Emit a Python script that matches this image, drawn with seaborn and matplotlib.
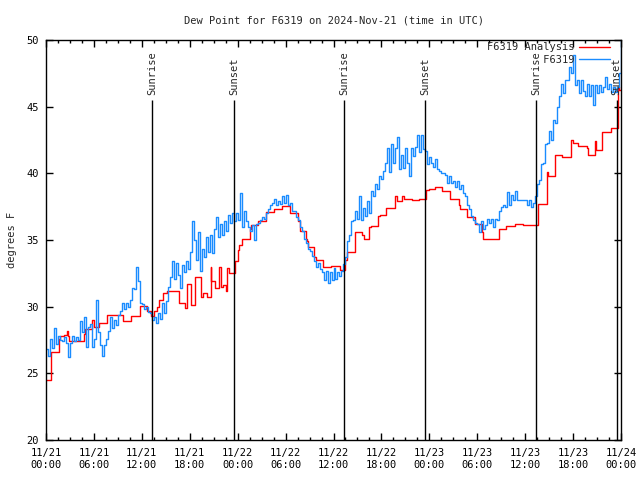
import numpy as np
import pandas as pd
import seaborn as sns
import matplotlib.pyplot as plt
from matplotlib.ticker import MultipleLocator

# time axis: hours since 2024-11-21 00:00 UTC

# analysis (stepped) - change points
analysis_hours = [0.0, 0.67, 1.67, 1.8, 2.3, 2.6, 2.75, 2.9, 4.7, 4.9, 5.8, 6.0, 6.6, 7.7,
                  9.6, 10.7, 11.75, 12.6, 13.2, 13.5, 13.9, 14.1, 14.7, 15.1, 16.6, 17.4,
                  17.6, 18.2, 18.6, 19.4, 19.7, 20.2, 20.6, 20.7, 21.1, 21.7, 21.9, 22.2,
                  22.6, 22.7, 22.9, 23.7, 24.0, 24.2, 24.5, 25.5, 25.7, 26.6, 27.6, 28.6,
                  29.5, 30.5, 31.6, 31.8, 32.5, 32.7, 32.8, 33.6, 33.75, 34.7, 35.7, 36.8,
                  37.5, 37.75, 38.7, 39.6, 39.8, 40.5, 40.7, 41.6, 41.8, 42.6, 43.5, 43.7,
                  43.9, 44.6, 44.8, 45.8, 46.7, 47.6, 48.0, 48.7, 49.6, 50.6, 51.7, 51.8,
                  52.7, 53.7, 54.6, 54.7, 55.7, 56.7, 57.6, 58.7, 59.7, 61.6, 62.7, 62.8,
                  63.7, 64.6, 65.7, 66.0, 66.6, 67.8, 67.9, 68.7, 68.9, 69.6, 70.7, 71.6,
                  71.8, 72.0]
analysis_vals = [24.5, 26.6, 27.6, 27.8, 27.9, 28.2, 27.8, 27.45, 27.95, 28.3, 29.0, 28.5, 28.8, 29.4,
                 28.95, 29.3, 30.05, 29.7, 29.3, 29.7, 30.0, 30.5, 31.0, 31.2, 30.3, 29.9,
                 31.7, 30.1, 32.2, 30.75, 31.05, 30.75, 33.0, 31.9, 31.4, 33.0, 31.5, 31.6,
                 31.2, 32.9, 32.5, 33.4, 34.25, 34.6, 35.1, 35.8, 36.1, 36.4, 37.1, 37.3,
                 37.55, 37.05, 36.4, 35.7, 35.1, 34.9, 34.5, 33.7, 33.5, 32.95, 33.05, 32.75,
                 33.5, 34.1, 35.6, 35.4, 35.1, 36.0, 36.05, 36.8, 36.9, 37.4, 37.4, 38.3,
                 37.9, 38.3, 38.1, 38.0, 38.1, 38.75, 38.8, 39.0, 38.65, 38.1, 37.6, 37.3,
                 36.75, 36.2, 35.6, 35.1, 35.05, 35.8, 36.05, 36.2, 36.1, 37.7, 40.1, 39.8,
                 41.35, 41.25, 42.5, 42.3, 42.05, 41.9, 41.4, 42.4, 41.75, 43.1, 43.4, 46.5,
                 46.25, 46.25]

# station observations, every 15 minutes
obs_vals = [
    26.8, 26.3, 27.6, 26.9, 28.4, 27.2, 27.8, 27.5, 27.4, 27.7, 27.3, 26.2,
    27.3, 27.8, 27.4, 27.7, 27.5, 28.9, 28.1, 29.2, 27.0, 28.5, 28.7, 27.0,
    27.6, 30.5, 28.1, 27.1, 26.3, 27.1, 27.6, 28.2, 29.2, 28.4, 29.0, 28.6,
    29.4, 29.7, 30.3, 29.8, 30.3, 30.0, 30.5, 31.4, 31.3, 33.0, 31.9, 30.3,
    30.2, 29.8, 30.0, 29.6, 29.5, 29.0, 29.2, 28.8, 29.5, 29.1, 30.3, 29.5,
    30.4, 31.5, 32.2, 33.4, 32.1, 33.3, 32.4, 31.4, 33.1, 32.6, 33.4, 32.8,
    34.1, 36.4, 35.0, 33.5, 35.6, 32.7, 34.3, 33.7, 35.2, 34.1, 35.4, 34.0,
    35.8, 36.7, 35.2, 36.2, 35.4, 36.4, 35.7, 36.9, 36.3, 37.0, 36.4, 37.0,
    36.5, 38.5, 36.0, 37.2, 36.4, 36.0, 35.7, 36.1, 35.0, 36.2, 36.3, 36.5,
    36.7, 36.6, 37.0, 37.3, 37.6, 37.8, 38.1, 37.6, 37.9, 37.7, 38.3, 37.8,
    38.4, 37.6, 37.8, 37.2, 37.2, 36.7, 36.5, 36.0, 35.7, 35.1, 34.8, 34.3,
    34.2, 33.8, 33.4, 33.0, 33.3, 32.8, 32.6, 32.0, 32.7, 31.8, 32.6, 32.0,
    32.9, 32.1, 32.6, 32.3, 32.7, 33.2, 33.7, 34.9, 35.4, 36.4, 36.5, 37.2,
    36.6, 38.3, 36.5, 37.4, 36.8, 37.9, 37.0, 38.7, 38.3, 39.2, 38.8, 39.8,
    39.6, 40.2, 40.8, 41.9, 40.1, 42.2, 40.8, 41.9, 42.7, 40.3, 41.4, 40.4,
    41.9, 40.8, 39.8, 41.9, 41.3, 42.0, 42.9, 41.6, 42.9, 41.8, 41.7, 40.7,
    41.2, 40.8, 40.5, 41.1, 40.3, 40.2, 40.0, 40.0, 39.9, 39.3, 39.8, 39.3,
    39.4, 39.0, 39.4, 38.8, 39.1, 38.5, 38.3, 37.6, 37.3, 36.8, 36.5, 36.3,
    36.2, 35.6, 36.4, 35.8, 36.1, 36.6, 36.3, 36.6, 36.0, 36.6, 36.5, 37.2,
    37.5, 37.6, 37.5, 38.6, 37.6, 38.4, 38.0, 38.7, 38.0, 38.0, 38.0, 38.0,
    38.0, 37.6, 38.0, 37.5, 37.8, 38.3, 39.2, 39.5, 40.7, 40.8, 42.2, 42.3,
    43.2, 42.5, 44.0, 43.8, 45.0, 45.8, 46.7, 46.0, 47.0, 47.0, 48.0, 47.5,
    48.9, 46.6, 47.0, 46.0, 47.0, 46.2, 45.8, 46.7, 45.8, 46.6, 45.1, 46.6,
    46.0, 46.6, 46.1, 46.5, 47.2, 46.3, 46.7, 46.1, 46.5, 46.1, 46.5, 47.5,
    50.0]
obs_hours = np.arange(len(obs_vals)) * 0.25

sun_hours = [13.27, 23.53, 37.3, 47.43, 61.33, 71.46]
sun_labels = ["Sunrise", "Sunset", "Sunrise", "Sunset", "Sunrise", "Sunset"]

tick_hours = [0, 6, 12, 18, 24, 30, 36, 42, 48, 54, 60, 66, 72]
tick_labels = ["11/21\n00:00", "11/21\n06:00", "11/21\n12:00", "11/21\n18:00",
               "11/22\n00:00", "11/22\n06:00", "11/22\n12:00", "11/22\n18:00",
               "11/23\n00:00", "11/23\n06:00", "11/23\n12:00", "11/23\n18:00",
               "11/24\n00:00"]

sns.set_style("ticks")
plt.rcParams["font.family"] = "DejaVu Sans Mono"
plt.rcParams["font.size"] = 7.5

fig = plt.figure(figsize=(6.4, 4.8), dpi=100)
ax = fig.add_axes([46 / 640, 40 / 480, 575 / 640, 400 / 480])

sns.lineplot(x=analysis_hours, y=analysis_vals, ax=ax, color="#ff0000", lw=1.0,
             drawstyle="steps-post", label="F6319 Analysis")
sns.lineplot(x=obs_hours, y=obs_vals, ax=ax, color="#1a8cff", lw=1.0,
             drawstyle="steps-post", label="         F6319")

# sunrise / sunset markers
ax.vlines(sun_hours, 20, 45.5, color="black", lw=1)
for h, lab in zip(sun_hours, sun_labels):
    ax.text(h, 45.85, lab, rotation=90, ha="center", va="bottom", fontsize=7.5)

ax.set_xlim(0, 72)
ax.set_ylim(20, 50)
ax.set_xticks(tick_hours)
ax.set_xticklabels(tick_labels)
ax.xaxis.set_minor_locator(MultipleLocator(1.5))
ax.set_yticks([20, 25, 30, 35, 40, 45, 50])
ax.tick_params(which="both", direction="in", top=True, right=True, colors="black")
ax.tick_params(which="major", length=5, width=1, labelsize=7.5)
ax.tick_params(axis="x", which="major", pad=6)
ax.tick_params(axis="y", which="major", pad=5)
ax.tick_params(which="minor", length=2.5, width=1)
for s in ax.spines.values():
    s.set_color("black")
    s.set_linewidth(1)

ax.set_xlabel("")
ax.set_ylabel("degrees F", fontsize=7.5, labelpad=7)
ax.set_title("Dew Point for F6319 on 2024-Nov-21 (time in UTC)", fontsize=7.5, pad=12)

leg = ax.legend(loc="upper right", bbox_to_anchor=(0.993, 1.012), frameon=False,
                markerfirst=False, fontsize=7.5, handlelength=2.9, handletextpad=0.5,
                borderaxespad=0.5, labelspacing=0.25, borderpad=0.2)

fig.savefig("out.png", dpi=100)
